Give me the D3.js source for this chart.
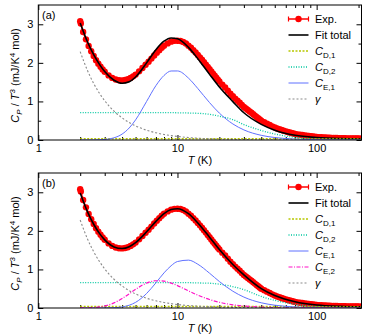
<!DOCTYPE html>
<html>
<head>
<meta charset="utf-8">
<script src="https://cdn.jsdelivr.net/npm/d3@7"></script>
<style>
  body { margin: 0; background: #fff; }
  svg { display: block; font-family: "Liberation Sans", Arial, sans-serif; }
</style>
</head>
<body>
<svg id="chart" width="374" height="336"></svg>
<script>
// temperature grid of the fit curves (K)
const gridT = [2, 2.25, 2.5, 2.75, 3, 3.5, 4, 4.5, 5, 6, 7, 8, 9, 10, 12, 14, 17, 20, 25, 30, 40, 50, 70, 100, 150, 210];

// panel (a) fit
const fitA   = [3.035, 2.555, 2.212, 1.961, 1.776, 1.549, 1.471, 1.509, 1.633, 1.999, 2.342, 2.561, 2.646, 2.623, 2.403, 2.109, 1.701, 1.373, 0.996, 0.706, 0.406, 0.255, 0.123, 0.064, 0.036, 0.026];
const cD1A   = [0.035, 0.035, 0.035, 0.035, 0.035, 0.035, 0.035, 0.035, 0.035, 0.035, 0.035, 0.035, 0.035, 0.035, 0.035, 0.035, 0.035, 0.035, 0.035, 0.034, 0.033, 0.032, 0.03, 0.028, 0.025, 0.022];
const cD2A   = [0.71, 0.71, 0.71, 0.71, 0.71, 0.71, 0.71, 0.71, 0.71, 0.71, 0.71, 0.71, 0.709, 0.706, 0.70, 0.692, 0.665, 0.618, 0.53, 0.40, 0.246, 0.155, 0.067, 0.026, 0.008, 0.003];
const cE1A   = [0, 0, 0.001, 0.005, 0.013, 0.056, 0.153, 0.312, 0.522, 1.0, 1.41, 1.673, 1.789, 1.79, 1.604, 1.335, 0.969, 0.697, 0.416, 0.262, 0.121, 0.064, 0.024, 0.009, 0.003, 0.001];
const gammaA = [2.29, 1.81, 1.466, 1.211, 1.018, 0.748, 0.573, 0.452, 0.366, 0.254, 0.187, 0.143, 0.113, 0.092, 0.064, 0.047, 0.032, 0.023, 0.015, 0.010, 0.006, 0.004, 0.002, 0.001, 0.0004, 0.0002];

// panel (b) fit
const fitB   = [2.981, 2.505, 2.171, 1.934, 1.766, 1.584, 1.542, 1.59, 1.695, 1.975, 2.246, 2.449, 2.554, 2.575, 2.444, 2.205, 1.835, 1.515, 1.127, 0.858, 0.502, 0.324, 0.164, 0.079, 0.043, 0.030];
const cD1B   = [0.04, 0.04, 0.04, 0.04, 0.04, 0.04, 0.04, 0.04, 0.04, 0.04, 0.04, 0.04, 0.04, 0.04, 0.04, 0.04, 0.04, 0.04, 0.04, 0.039, 0.038, 0.037, 0.034, 0.03, 0.027, 0.024];
const cD2B   = [0.66, 0.66, 0.66, 0.66, 0.66, 0.66, 0.66, 0.66, 0.66, 0.66, 0.66, 0.66, 0.66, 0.66, 0.657, 0.65, 0.642, 0.617, 0.554, 0.475, 0.30, 0.198, 0.096, 0.036, 0.012, 0.005];
const cE1B   = [0, 0, 0, 0.0005, 0.001, 0.007, 0.027, 0.072, 0.146, 0.376, 0.653, 0.91, 1.095, 1.205, 1.241, 1.135, 0.902, 0.687, 0.435, 0.283, 0.135, 0.073, 0.028, 0.01, 0.003, 0.001];
const cE2B   = [0.001, 0.004, 0.012, 0.027, 0.052, 0.132, 0.245, 0.368, 0.484, 0.646, 0.707, 0.696, 0.646, 0.579, 0.443, 0.333, 0.219, 0.148, 0.083, 0.051, 0.023, 0.012, 0.004, 0.0015, 0.0005, 0.0002];
const gammaB = [2.28, 1.801, 1.459, 1.206, 1.013, 0.745, 0.570, 0.450, 0.365, 0.253, 0.186, 0.143, 0.113, 0.091, 0.063, 0.047, 0.032, 0.023, 0.015, 0.010, 0.006, 0.004, 0.002, 0.001, 0.0004, 0.0002];

// measured data (same in both panels)
const expT  = [2.0, 2.02, 2.1, 2.2, 2.3, 2.4, 2.5, 2.6, 2.7, 2.8, 2.9, 3.0,
               3.2, 3.4, 3.6, 3.8, 4.0, 4.2, 4.4, 4.6, 4.8, 5.0,
               5.3, 5.6, 5.9, 6.2, 6.5, 6.8, 7.1, 7.4, 7.7, 8.0,
               8.5, 9, 9.5, 10, 10.5, 11, 11.5,
               12, 12.5, 13, 13.5, 14, 14.5, 15, 15.5, 16, 16.5, 17, 17.5, 18, 18.5, 19, 19.5, 20,
               21, 22, 23, 24, 25, 26, 27, 28, 29, 30,
               31, 32, 33, 34, 35, 36, 37, 38, 39, 40,
               42, 44, 46, 48, 50, 52, 54, 56, 58, 60, 62, 64, 66, 68, 70,
               73, 76, 79, 82, 85, 88, 91, 94, 97, 100,
               104, 108, 112, 116, 120, 124, 128, 132, 136, 140,
               145, 150, 155, 160, 165, 170, 175, 180, 185, 190, 195, 200, 205, 210];
const expCp = [3.08, 3.02, 2.80, 2.61, 2.44, 2.30, 2.18, 2.07, 1.98, 1.90, 1.83, 1.77,
               1.675, 1.61, 1.57, 1.55, 1.545, 1.555, 1.575, 1.61, 1.65, 1.695,
               1.78, 1.865, 1.95, 2.03, 2.11, 2.19, 2.265, 2.33, 2.39, 2.445,
               2.505, 2.55, 2.57, 2.575, 2.565, 2.54, 2.50,
               2.445, 2.39, 2.33, 2.27, 2.205, 2.143, 2.08, 2.018, 1.955, 1.895, 1.835, 1.777, 1.72, 1.667, 1.615, 1.565, 1.515,
               1.435, 1.36, 1.28, 1.20, 1.135, 1.073, 1.018, 0.965, 0.91, 0.858,
               0.818, 0.78, 0.742, 0.705, 0.668, 0.632, 0.598, 0.565, 0.532, 0.50,
               0.46, 0.424, 0.39, 0.354, 0.325, 0.298, 0.277, 0.258, 0.24, 0.224, 0.209, 0.195, 0.182, 0.17, 0.158,
               0.147, 0.137, 0.128, 0.12, 0.112, 0.105, 0.098, 0.091, 0.085, 0.08,
               0.075, 0.071, 0.067, 0.063, 0.06, 0.058, 0.055, 0.053, 0.051, 0.05,
               0.048, 0.047, 0.045, 0.044, 0.043, 0.042, 0.041, 0.04, 0.039, 0.038, 0.038, 0.037, 0.036, 0.036];

const xMajor = [1, 10, 100];
const xMinor = [2, 3, 4, 5, 6, 7, 8, 9, 20, 30, 40, 50, 60, 70, 80, 90, 200];
const yMajor = [0, 1, 2, 3];
const yMinor = [0.5, 1.5, 2.5];

const styles = {
  D1: { color: "#b8c800", dash: "2,1.5", width: 1.5, label: ["C", "D,1"] },
  D2: { color: "#00c8a0", dash: "1,1.5", width: 1.3, label: ["C", "D,2"] },
  E1: { color: "#5f70ff", dash: null, width: 1, label: ["C", "E,1"] },
  E2: { color: "#ff10c8", dash: "4,1.5,1,1.5", width: 1.2, label: ["C", "E,2"] },
  G:  { color: "#8a8a8a", dash: "2,2", width: 1.1, label: ["γ", ""] }
};

const panels = [
  { name: "(a)", top: 5, bottom: 140, fit: fitA, legendY: 19,
    comps: [["D1", cD1A], ["D2", cD2A], ["E1", cE1A], ["G", gammaA]] },
  { name: "(b)", top: 173, bottom: 308, fit: fitB, legendY: 187,
    comps: [["D1", cD1B], ["D2", cD2B], ["E1", cE1B], ["E2", cE2B], ["G", gammaB]] }
];

const left = 38.3, right = 361.5;
const svg = d3.select("#chart");
const x = d3.scaleLog().domain([1, 210]).range([left, right]);

panels.forEach((p, pi) => {
  const y = d3.scaleLinear().domain([0, 3.5]).range([p.bottom, p.top]);
  const g = svg.append("g");

  const clipId = "clip" + pi;
  g.append("clipPath").attr("id", clipId)
    .append("rect").attr("x", left).attr("y", p.top)
    .attr("width", right - left).attr("height", p.bottom - p.top);

  // axes with inward ticks on all four sides
  const addAxis = (axis, tx, ty) => g.append("g")
    .attr("transform", `translate(${tx},${ty})`)
    .call(axis)
    .call(s => s.select(".domain").remove())
    .call(s => s.selectAll("text").attr("font-size", 11).attr("font-family", "Liberation Sans, Arial, sans-serif").attr("fill", "#000"))
    .call(s => s.selectAll("line").attr("stroke", "#000"));

  addAxis(d3.axisBottom(x).tickValues(xMajor).tickFormat(d3.format("d")).tickSize(-5).tickPadding(4), 0, p.bottom);
  addAxis(d3.axisBottom(x).tickValues(xMinor).tickFormat("").tickSize(-3), 0, p.bottom);
  addAxis(d3.axisTop(x).tickValues(xMajor).tickFormat("").tickSize(-5), 0, p.top);
  addAxis(d3.axisTop(x).tickValues(xMinor).tickFormat("").tickSize(-3), 0, p.top);
  addAxis(d3.axisLeft(y).tickValues(yMajor).tickFormat(d3.format("d")).tickSize(-5).tickPadding(5), left, 0);
  addAxis(d3.axisLeft(y).tickValues(yMinor).tickFormat("").tickSize(-3), left, 0);
  addAxis(d3.axisRight(y).tickValues(yMajor).tickFormat("").tickSize(-5), right, 0);
  addAxis(d3.axisRight(y).tickValues(yMinor).tickFormat("").tickSize(-3), right, 0);

  const plot = g.append("g").attr("clip-path", `url(#${clipId})`);
  const line = d3.line().x(d => x(d[0])).y(d => y(d[1])).curve(d3.curveMonotoneX);

  // experimental points
  const expPts = expT.map((t, i) => [t, expCp[i]]);
  plot.append("path").datum(expPts)
    .attr("d", line).attr("fill", "none").attr("stroke", "#ff0000").attr("stroke-width", 1.5);
  plot.selectAll("circle.exp").data(expPts).join("circle")
    .attr("class", "exp")
    .attr("cx", d => x(d[0])).attr("cy", d => y(d[1])).attr("r", 3.2)
    .attr("fill", "#ff0000");

  // fit total
  plot.append("path").datum(gridT.map((t, i) => [t, p.fit[i]]))
    .attr("d", line).attr("fill", "none").attr("stroke", "#000").attr("stroke-width", 1.6);

  // components
  p.comps.forEach(([key, vals]) => {
    const st = styles[key];
    plot.append("path").datum(gridT.map((t, i) => [t, vals[i]]))
      .attr("d", line).attr("fill", "none")
      .attr("stroke", st.color).attr("stroke-width", st.width)
      .attr("stroke-dasharray", st.dash);
  });

  // frame
  g.append("rect").attr("x", left).attr("y", p.top)
    .attr("width", right - left).attr("height", p.bottom - p.top)
    .attr("fill", "none").attr("stroke", "#000").attr("stroke-width", 1);

  // panel label
  g.append("text").attr("x", 42).attr("y", p.top + 14)
    .attr("font-size", 11).text(p.name);

  // axis titles
  const xt = g.append("text").attr("x", (left + right) / 2).attr("y", p.bottom + 24)
    .attr("text-anchor", "middle").attr("font-size", 11);
  xt.append("tspan").attr("font-style", "italic").text("T");
  xt.append("tspan").text(" (K)");

  const yt = g.append("text")
    .attr("transform", `translate(19,${(p.top + p.bottom) / 2 + 3}) rotate(-90)`)
    .attr("text-anchor", "middle").attr("font-size", 11);
  yt.append("tspan").attr("font-style", "italic").text("C");
  yt.append("tspan").attr("font-style", "italic").attr("font-size", 8).attr("dy", 3).text("P");
  yt.append("tspan").attr("dy", -3).text(" / ");
  yt.append("tspan").attr("font-style", "italic").text("T");
  yt.append("tspan").attr("font-size", 8).attr("dy", -4).text("3");
  yt.append("tspan").attr("dy", 4).text(" (mJ/K");
  yt.append("tspan").attr("font-size", 8).attr("dy", -4).text("4");
  yt.append("tspan").attr("dy", 4).text(" mol)");

  // legend
  const lx0 = 288.5, lx1 = 308.5, tx = 315;
  const entries = [["exp"], ["fit"]].concat(p.comps.map(c => [c[0]]));
  entries.forEach((e, i) => {
    const ly = p.legendY + i * 16;
    const lg = g.append("g");
    if (e[0] === "exp") {
      lg.append("line").attr("x1", lx0).attr("x2", lx1).attr("y1", ly).attr("y2", ly)
        .attr("stroke", "#ff0000").attr("stroke-width", 1.5);
      [lx0, lx1].forEach(cx => lg.append("line").attr("x1", cx).attr("x2", cx)
        .attr("y1", ly - 2.5).attr("y2", ly + 2.5).attr("stroke", "#ff0000").attr("stroke-width", 1.2));
      lg.append("circle").attr("cx", (lx0 + lx1) / 2).attr("cy", ly).attr("r", 3.2).attr("fill", "#ff0000");
      lg.append("text").attr("x", tx).attr("y", ly + 4).attr("font-size", 11).text("Exp.");
    } else if (e[0] === "fit") {
      lg.append("line").attr("x1", lx0).attr("x2", lx1).attr("y1", ly).attr("y2", ly)
        .attr("stroke", "#000").attr("stroke-width", 1.6);
      lg.append("text").attr("x", tx).attr("y", ly + 4).attr("font-size", 11).text("Fit total");
    } else {
      const st = styles[e[0]];
      lg.append("line").attr("x1", lx0).attr("x2", lx1).attr("y1", ly).attr("y2", ly)
        .attr("stroke", st.color).attr("stroke-width", st.width).attr("stroke-dasharray", st.dash);
      const t = lg.append("text").attr("x", tx).attr("y", ly + 4).attr("font-size", 11);
      t.append("tspan").attr("font-style", "italic").text(st.label[0]);
      if (st.label[1]) t.append("tspan").attr("font-size", 8).attr("dy", 3).text(st.label[1]);
    }
  });
});
</script>
</body>
</html>
